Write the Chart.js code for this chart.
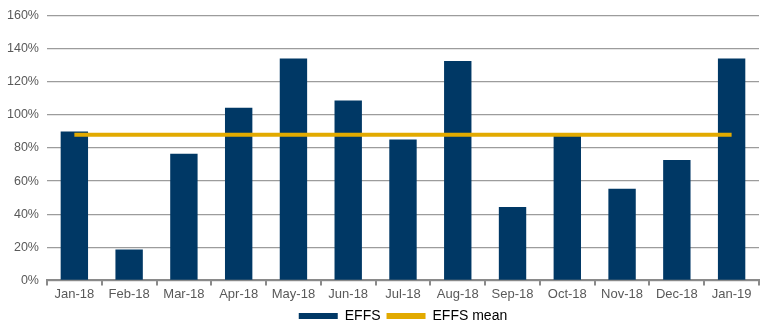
<!DOCTYPE html>
<html>
<head>
<meta charset="utf-8">
<script src="https://cdn.jsdelivr.net/npm/chart.js@4.4.1/dist/chart.umd.min.js"></script>
<style>
  html, body { margin: 0; padding: 0; background: #fff; }
  #wrap { width: 770px; height: 327px; }
</style>
</head>
<body>
<div id="wrap"><canvas id="effs" width="770" height="327"></canvas></div>
<script>
const months = ["Jan-18", "Feb-18", "Mar-18", "Apr-18", "May-18", "Jun-18", "Jul-18",
                "Aug-18", "Sep-18", "Oct-18", "Nov-18", "Dec-18", "Jan-19"];
const effs = [90, 18.6, 76.5, 104.3, 134, 108.7, 85.1, 132.5, 44.4, 87.5, 55.3, 72.7, 134];
const yTicks = [0, 20, 40, 60, 80, 100, 120, 140, 160];

// mean of the series, drawn flat across all months
const effsMean = effs.reduce((a, b) => a + b, 0) / effs.length;
const meanLine = months.map(() => effsMean);

const navy = "#003865";
const gold = "#E2AA00";
const textGrey = "#595959";

Chart.defaults.font.family = "'Liberation Sans', Arial, sans-serif";
Chart.defaults.font.size = 12;
Chart.defaults.color = textGrey;

const cfg = {
  type: "bar",
  data: {
    labels: months,
    datasets: [
      {
        label: "EFFS",
        data: effs,
        backgroundColor: navy,
        barPercentage: 0.5,
        categoryPercentage: 1,
        order: 2,
      },
      {
        type: "line",
        label: "EFFS mean",
        data: meanLine,
        borderColor: gold,
        backgroundColor: gold,
        borderWidth: 4,
        pointRadius: 0,
        order: 1,
      },
    ],
  },
  options: {
    responsive: false,
    animation: false,
    layout: { padding: { top: -2, right: 11, left: -1, bottom: -6 } },
    plugins: {
      tooltip: { enabled: false },
      legend: {
        position: "bottom",
        fullSize: false, // centre the legend under the plot area
        labels: {
          boxWidth: 39,
          boxHeight: 6,
          padding: 6,
          color: textGrey,
          font: { size: 14 },
          generateLabels: (chart) =>
            chart.data.datasets.map((ds, i) => ({
              text: ds.label,
              fillStyle: i === 0 ? navy : gold,
              strokeStyle: i === 0 ? navy : gold,
              lineWidth: 0,
              datasetIndex: i,
            })),
        },
      },
    },
    scales: {
      x: {
        grid: {
          offset: true,
          drawOnChartArea: false,
          drawTicks: true,
          tickLength: 5,
          color: "#8a8a8a",
          lineWidth: 2,
        },
        border: { color: "#8a8a8a", width: 2 },
        ticks: { padding: 1, maxRotation: 0, autoSkip: false, font: { size: 13 } },
      },
      y: {
        min: 0,
        max: 160,
        afterBuildTicks: (axis) => { axis.ticks = yTicks.map((v) => ({ value: v })); },
        grid: { color: "#9c9c9c", lineWidth: 1.3, drawTicks: false },
        border: { display: false },
        ticks: { padding: 8, font: { size: 12.5 }, callback: (v) => v + "%" },
      },
    },
  },
};

window.effsChart = new Chart(document.getElementById("effs"), cfg);
</script>
</body>
</html>
